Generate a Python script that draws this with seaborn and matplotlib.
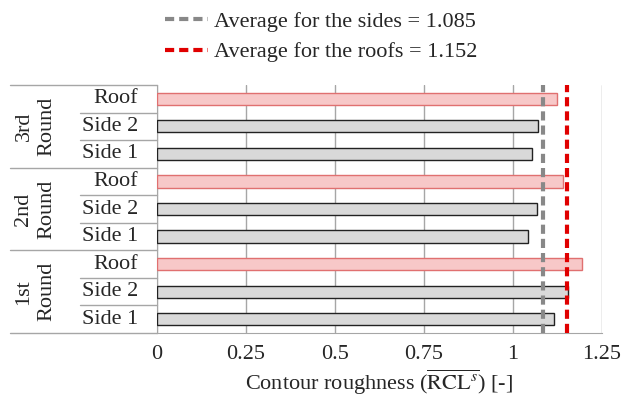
import matplotlib
matplotlib.use("Agg")
import matplotlib.pyplot as plt
import seaborn as sns
import pandas as pd
from matplotlib.lines import Line2D

rounds = ["3rd\nRound", "2nd\nRound", "1st\nRound"]
surfaces = ["Roof", "Side 2", "Side 1"]
values_3rd = [1.124, 1.072, 1.055]
values_2nd = [1.140, 1.069, 1.044]
values_1st = [1.194, 1.155, 1.117]
avg_sides = 1.085
avg_roofs = 1.152
xticks = [0, 0.25, 0.5, 0.75, 1, 1.25]
xtick_labels = ["0", "0.25", "0.5", "0.75", "1", "1.25"]

rows = []
for rnd, vals in zip(rounds, [values_3rd, values_2nd, values_1st]):
    for s, v in zip(surfaces, vals):
        rows.append({"key": rnd + "|" + s, "round": rnd, "surface": s,
                     "value": v, "type": "roof" if s == "Roof" else "side"})
df = pd.DataFrame(rows)

sns.set_style("white")
plt.rcParams["font.family"] = ["Liberation Serif", "DejaVu Serif"]
plt.rcParams["mathtext.fontset"] = "stix"
FS = 16

fig = plt.figure(figsize=(6.22, 4.01), dpi=100)
ax = fig.add_axes([0.2524, 0.1696, 0.7150, 0.6184])

sns.barplot(data=df, y="key", x="value", hue="type", orient="h",
            order=list(df["key"]), hue_order=["roof", "side"],
            palette={"roof": "#ffc0c0", "side": "#d9d9d9"},
            dodge=False, width=0.44, legend=False, ax=ax, zorder=3)

for p in ax.patches:
    fc = p.get_facecolor()
    if fc[0] > 0.95 and fc[1] < 0.9:
        p.set_edgecolor("#e07070")
    else:
        p.set_edgecolor("#222222")
    p.set_linewidth(1.0)

ax.axvline(avg_sides, color="#888888", lw=3, ls=(0, (2.2, 1.2)), zorder=4)
ax.axvline(avg_roofs, color="#e00000", lw=3, ls=(0, (2.2, 1.2)), zorder=4)

ax.set_xlim(0, 1.25)
ax.set_ylim(8.5, -0.5)
ax.set_xticks(xticks)
ax.set_xticklabels(xtick_labels, fontsize=FS)
ax.set_yticks([])
ax.set_ylabel("")
ax.set_xlabel(r"Contour roughness ($\overline{\mathrm{RCL}^{s}}$) [-]", fontsize=FS, labelpad=2)
ax.grid(axis="x", color="#a6a6a6", lw=1, zorder=0)
ax.tick_params(axis="x", direction="out", length=5, color="#a6a6a6", pad=4)

for side in ["top", "right"]:
    ax.spines[side].set_visible(False)
ax.spines["left"].set_color("#a6a6a6")
ax.spines["bottom"].set_color("#a6a6a6")

tr = ax.get_yaxis_transform()
for i in range(9):
    y = i + 0.5
    x0 = -0.33 if i in (2, 5, 8) else -0.173
    ax.plot([x0, 0], [y, y], transform=tr, color="#a6a6a6", lw=1, clip_on=False)
ax.plot([-0.33, 0], [-0.5, -0.5], transform=tr, color="#a6a6a6", lw=1, clip_on=False)

for i, k in enumerate(df["surface"]):
    ax.text(-0.043, i, k, transform=tr, ha="right", va="center", fontsize=FS)
for g, rnd in enumerate(rounds):
    ax.text(-0.273, g * 3 + 1, rnd, transform=tr, ha="center", va="center",
            rotation=90, fontsize=FS, linespacing=1.3)

handles = [Line2D([0], [0], color="#888888", lw=3, ls=(0, (2.2, 1.2))),
           Line2D([0], [0], color="#e00000", lw=3, ls=(0, (2.2, 1.2)))]
labels = [f"Average for the sides = {avg_sides}", f"Average for the roofs = {avg_roofs}"]
fig.legend(handles, labels, loc="upper center", bbox_to_anchor=(0.517, 1.022),
           frameon=False, fontsize=FS, handlelength=1.9, handletextpad=0.3,
           labelspacing=0.45)

fig.savefig("out.png", dpi=100)
